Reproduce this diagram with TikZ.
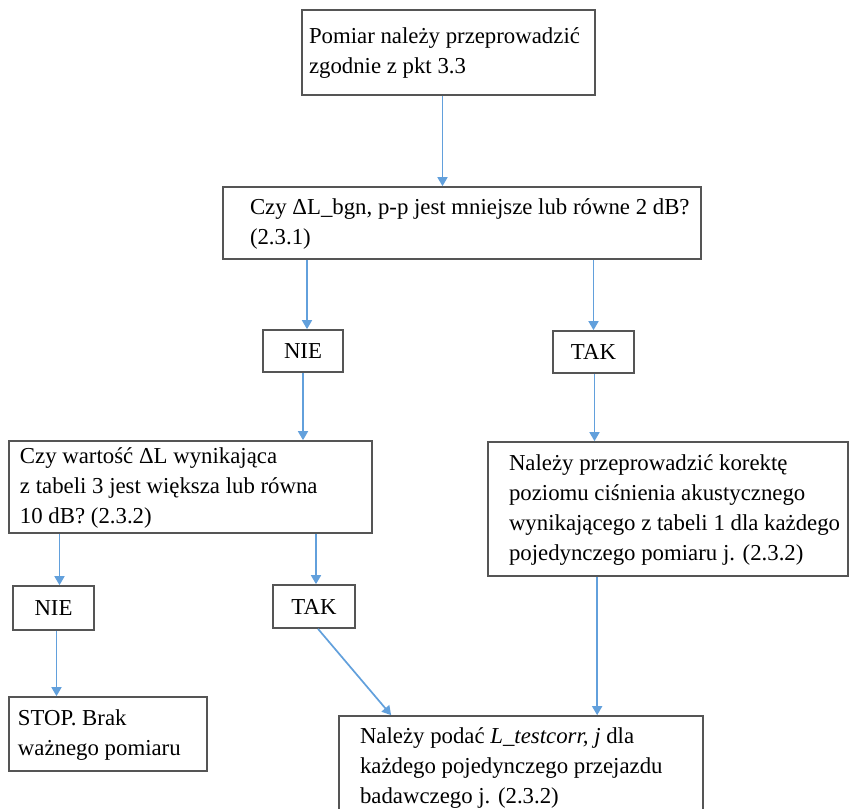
\documentclass[tikz,border=0pt]{standalone}
\usepackage{fontspec}
\setmainfont{Liberation Serif}
\usetikzlibrary{arrows.meta,calc}
\definecolor{arrblue}{RGB}{98,160,220}
\definecolor{boxgray}{RGB}{85,85,85}
\newcommand\boxlines[3]{\makebox[#1][l]{\hspace*{#2}\begin{tabular}[c]{@{}l@{}}#3\end{tabular}}}
\tikzset{
  box/.style={draw=boxgray, line width=1.7pt, fill=white, rectangle, inner sep=0pt,
    font=\fontsize{22.8}{30}\selectfont},
  tagbox/.style={draw=boxgray, line width=1.7pt, fill=white, rectangle, inner sep=0pt,
    align=center, font=\fontsize{22.8}{30}\selectfont},
  arr/.style={draw=arrblue, line width=1.7pt, -{Triangle[width=10pt,length=9pt]}}
}
\begin{document}
\begin{tikzpicture}[x=1pt,y=-1pt]
\clip (0,0) rectangle (853,808);
\fill[white] (0,0) rectangle (853,808);

\node[box, minimum height=85pt] (b1) at (448.5,52.5)
  {\boxlines{293pt}{7pt}{Pomiar należy przeprowadzić\\zgodnie z pkt 3.3}};
\node[box, minimum height=72pt] (b2) at (462,223)
  {\boxlines{478pt}{27pt}{Czy ΔL\_bgn, p-p jest mniejsze lub równe 2 dB?\\(2.3.1)}};
\node[tagbox, minimum width=80pt, minimum height=42pt] (b3) at (303,351) {NIE};
\node[tagbox, minimum width=81pt, minimum height=42pt] (b4) at (593.5,352) {TAK};
\node[box, minimum height=92pt] (b5) at (190.5,487)
  {\boxlines{363pt}{11pt}{Czy wartość ΔL wynikająca\\z tabeli 3 jest większa lub równa\\10 dB? (2.3.2)}};
\node[box, minimum height=134pt] (b6) at (668,509)
  {\boxlines{360pt}{21pt}{Należy przeprowadzić korektę\\poziomu ciśnienia akustycznego\\wynikającego z tabeli 1 dla każdego\\pojedynczego pomiaru j. (2.3.2)}};
\node[tagbox, minimum width=81pt, minimum height=44pt] (b7) at (53.5,608) {NIE};
\node[tagbox, minimum width=82pt, minimum height=43pt] (b8) at (314,606.5) {TAK};
\node[box, minimum height=74pt] (b9) at (108,734)
  {\boxlines{198pt}{9pt}{STOP. Brak\\ważnego pomiaru}};
\node[box, minimum height=102pt] (b10) at (521,767)
  {\boxlines{364pt}{21pt}{Należy podać \textit{L\_testcorr, j} dla\\każdego pojedynczego przejazdu\\badawczego j. (2.3.2)}};

\draw[arr] ([xshift=-6pt]b1.south) -- ([xshift=-6pt]b1.south |- b2.north);
\draw[arr] ([xshift=4pt]b3.north |- b2.south) -- ([xshift=4pt]b3.north);
\draw[arr] (b4.north |- b2.south) -- (b4.north);
\draw[arr] (b3.south) -- (b3.south |- b5.north);
\draw[arr] ([xshift=1pt]b4.south) -- ([xshift=1pt]b4.south |- b6.north);
\draw[arr] ([xshift=6pt]b7.north |- b5.south) -- ([xshift=6pt]b7.north);
\draw[arr] ([xshift=2pt]b8.north |- b5.south) -- ([xshift=2pt]b8.north);
\draw[arr] ([xshift=3pt]b7.south) -- ([xshift=3pt]b7.south |- b9.north);
\draw[arr] ([xshift=4pt]b8.south) -- ([xshift=53pt]b10.north west);
\draw[arr] ([xshift=110pt]b6.south west) -- ([xshift=110pt]b6.south west |- b10.north);
\end{tikzpicture}
\end{document}
